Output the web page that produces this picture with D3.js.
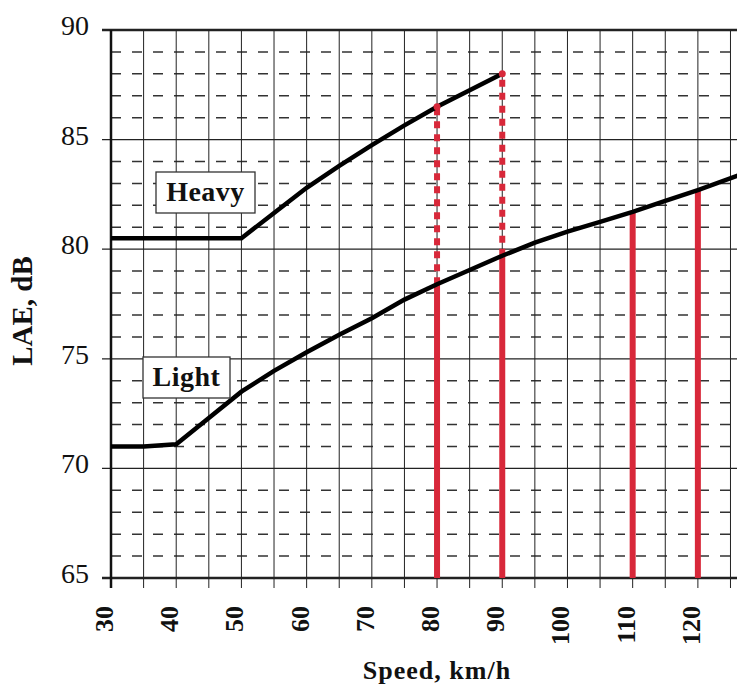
<!DOCTYPE html>
<html>
<head>
  <title>LAE vs speed</title>
</head>
<style>
  body {
    margin: 0;
    background: white;
  }
  text {
    font-family: "Liberation Serif", "Times New Roman", serif;
    fill: #111;
  }
</style>
<body>
  <script src="https://d3js.org/d3.v7.min.js"></script>
  <script>
    // curves (speed km/h -> LAE dB)
    const heavySpeed = [30, 50, 55, 60, 65, 70, 75, 80, 85, 90];
    const heavyLae   = [80.5, 80.5, 81.65, 82.8, 83.8, 84.75, 85.65, 86.5, 87.25, 88.0];

    const lightSpeed = [30, 35, 40, 45, 50, 55, 60, 65, 70, 75, 80, 85, 90, 95, 100, 105, 110, 115, 120, 127];
    const lightLae   = [71.0, 71.0, 71.1, 72.3, 73.5, 74.45, 75.3, 76.1, 76.85, 77.7, 78.4, 79.05, 79.7, 80.3, 80.8, 81.25, 81.7, 82.2, 82.7, 83.45];

    // red markers: speeds where verticals are drawn, and whether a dotted part goes up to Heavy
    const markSpeed  = [80, 90, 110, 120];
    const markLight  = [78.4, 79.7, 81.7, 82.7];
    const markHeavy  = [86.5, 88.0, null, null];

    const xTicks = [30, 40, 50, 60, 70, 80, 90, 100, 110, 120];
    const yTicks = [65, 70, 75, 80, 85, 90];

    const w = 737;
    const h = 689;

    const x = d3.scaleLinear().domain([30, 126]).range([111, 737]);
    const y = d3.scaleLinear().domain([65, 90]).range([578, 30]);

    const svg = d3.select("body")
                  .append("svg")
                  .attr("width", w)
                  .attr("height", h)

    const grid = svg.append("g")

    // dashed lines every 1 dB
    grid.selectAll("line.minor")
        .data(d3.range(66, 90).filter(d => d % 5 != 0))
        .join("line")
          .attr("class", "minor")
          .attr("x1", x(30)).attr("x2", w)
          .attr("y1", d => y(d)).attr("y2", d => y(d))
          .attr("stroke", "#333")
          .attr("stroke-width", 1.5)
          .attr("stroke-dasharray", "10,11")

    // vertical lines every 5 km/h, with little ticks under the axis
    grid.selectAll("line.vert")
        .data(d3.range(35, 130, 5))
        .join("line")
          .attr("class", "vert")
          .attr("x1", d => x(d)).attr("x2", d => x(d))
          .attr("y1", y(90)).attr("y2", y(65) + 10)
          .attr("stroke", "#222")
          .attr("stroke-width", 1)

    // solid lines every 5 dB, poking out left of the axis
    grid.selectAll("line.major")
        .data(yTicks)
        .join("line")
          .attr("class", "major")
          .attr("x1", x(30) - 9).attr("x2", w)
          .attr("y1", d => y(d)).attr("y2", d => y(d))
          .attr("stroke", "#222")
          .attr("stroke-width", d => (d == 65 || d == 90) ? 2.5 : 1.2)

    // left axis line
    svg.append("line")
       .attr("x1", x(30)).attr("x2", x(30))
       .attr("y1", y(90)).attr("y2", y(65) + 10)
       .attr("stroke", "#111")
       .attr("stroke-width", 2.5)

    // red verticals: solid up to Light, dotted up to Heavy
    svg.selectAll("line.redsolid")
       .data(markSpeed)
       .join("line")
         .attr("class", "redsolid")
         .attr("x1", d => x(d)).attr("x2", d => x(d))
         .attr("y1", y(65)).attr("y2", (d, i) => y(markLight[i]))
         .attr("stroke", "#d8283a")
         .attr("stroke-width", 6)

    svg.selectAll("line.reddot")
       .data(markSpeed.filter((d, i) => markHeavy[i] != null))
       .join("line")
         .attr("class", "reddot")
         .attr("x1", d => x(d)).attr("x2", d => x(d))
         .attr("y1", (d, i) => y(markLight[i]))
         .attr("y2", (d, i) => y(markHeavy[i]))
         .attr("stroke", "#d8283a")
         .attr("stroke-width", 6)
         .attr("stroke-dasharray", "7,6")

    // the two curves
    const line = d3.line()
                   .x(d => x(d[0]))
                   .y(d => y(d[1]))

    svg.append("path")
       .attr("d", line(d3.zip(heavySpeed, heavyLae)))
       .attr("fill", "none")
       .attr("stroke", "#000")
       .attr("stroke-width", 4.5)

    svg.append("path")
       .attr("d", line(d3.zip(lightSpeed, lightLae)))
       .attr("fill", "none")
       .attr("stroke", "#000")
       .attr("stroke-width", 4.5)

    // red dot on top of the dotted lines
    svg.selectAll("circle.top")
       .data(markSpeed.filter((d, i) => markHeavy[i] != null))
       .join("circle")
         .attr("class", "top")
         .attr("cx", d => x(d))
         .attr("cy", (d, i) => y(markHeavy[i]))
         .attr("r", 3.5)
         .attr("fill", "#d8283a")

    // labels in boxes
    const boxes = [
      {name: "Heavy", x0: 156, y0: 172, bw: 99, bh: 41},
      {name: "Light", x0: 143, y0: 357, bw: 87, bh: 41}
    ]
    const lab = svg.selectAll("g.lab")
                   .data(boxes)
                   .join("g")
                     .attr("class", "lab")
                     .attr("transform", d => "translate(" + d.x0 + "," + d.y0 + ")")
    lab.append("rect")
       .attr("width", d => d.bw)
       .attr("height", d => d.bh)
       .attr("fill", "white")
       .attr("stroke", "#333")
       .attr("stroke-width", 1.3)
    lab.append("text")
       .attr("x", d => d.bw / 2)
       .attr("y", 29)
       .attr("text-anchor", "middle")
       .attr("font-weight", "bold")
       .attr("font-size", 28)
       .attr("letter-spacing", 0.5)
       .text(d => d.name)

    // tick labels
    svg.selectAll("text.ylab")
       .data(yTicks)
       .join("text")
         .attr("class", "ylab")
         .attr("x", 89)
         .attr("y", d => y(d) + 5)
         .attr("text-anchor", "end")
         .attr("font-size", 28)
         .text(d => d)

    svg.selectAll("text.xlab")
       .data(xTicks)
       .join("text")
         .attr("class", "xlab")
         .attr("transform", d => "translate(" + (x(d) + 2) + ",606) rotate(-90)")
         .attr("text-anchor", "end")
         .attr("font-weight", "bold")
         .attr("font-size", 26)
         .text(d => d)

    // axis titles
    svg.append("text")
       .attr("x", 437)
       .attr("y", 679)
       .attr("text-anchor", "middle")
       .attr("font-weight", "bold")
       .attr("font-size", 26)
       .attr("letter-spacing", 1)
       .text("Speed, km/h")

    svg.append("text")
       .attr("transform", "translate(32,311) rotate(-90)")
       .attr("text-anchor", "middle")
       .attr("font-weight", "bold")
       .attr("font-size", 29)
       .text("LAE, dB")
  </script>
</body>
</html>
